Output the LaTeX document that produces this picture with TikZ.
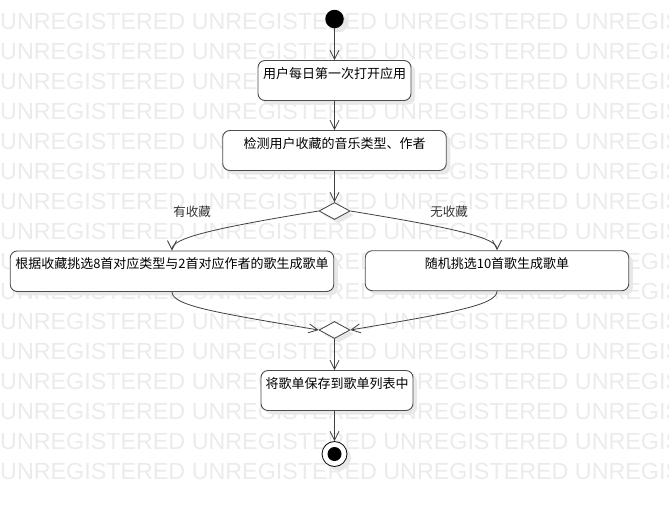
\documentclass[tikz,border=0pt]{standalone}
\usepackage{fontspec}
\setmainfont{Liberation Sans}
\newfontfamily\cjk{Noto Sans CJK SC}
\usetikzlibrary{arrows.meta,shapes.geometric,shadows}
\tikzset{
  wm/.style={anchor=base west, inner sep=0, text=black!8, font=\fontsize{23.3}{26}\selectfont},
  shd/.style={drop shadow={shadow xshift=4pt, shadow yshift=-4pt, fill=black!9, opacity=1}},
  actbox/.style={shd, draw=black!70, line width=0.9pt, fill=white, rounded corners=7pt,
     inner sep=0pt, text height=18pt, font=\cjk\fontsize{13}{15}\selectfont, text=black},
  decbox/.style={shd, diamond, draw=black!75, line width=0.8pt, fill=white, inner sep=0pt,
     minimum width=31pt, minimum height=17pt},
  lbl/.style={font=\cjk\fontsize{12.5}{14}\selectfont, text=black!80, inner sep=0pt},
  flow/.style={draw=black!75, line width=0.8pt, -{Straight Barb[length=9pt,width=9pt]}},
}
\begin{document}
\begin{tikzpicture}[x=1pt,y=-1pt]
\useasboundingbox (0,0) rectangle (669,507);
\begin{scope}
\clip (0,0) rectangle (669,507);
\foreach \k in {0,...,15} {
  \node[wm] (wm\k) at (0,{29+30*\k}) {UNREGISTERED UNREGISTERED UNREGISTERED UNREGISTERED};
}
\end{scope}
% initial
\node[shd, circle, fill=black, inner sep=0pt, minimum size=18.5pt] (init) at (334.5,19) {};
% actions
\node[actbox, minimum width=153pt, minimum height=40pt, text depth=22pt] (n1) at (334.5,80.5) {用户每日第一次打开应用};
\node[actbox, minimum width=223.5pt, minimum height=40pt, text depth=22pt] (n2) at (334.5,150.5) {检测用户收藏的音乐类型、作者};
\node[decbox] (d1) at (334.5,211) {};
\node[actbox, minimum width=323.5pt, minimum height=40.5pt, text depth=22.5pt] (n3) at (172,271.2) {根据收藏挑选8首对应类型与2首对应作者的歌生成歌单};
\node[actbox, minimum width=263.5pt, minimum height=40pt, text depth=22pt] (n4) at (497,270.7) {随机挑选10首歌生成歌单};
\node[decbox] (d2) at (334.5,330) {};
\node[actbox, minimum width=152pt, minimum height=40pt, text depth=22pt] (n5) at (337,390.5) {将歌单保存到歌单列表中};
% final
\node[shd, circle, draw=black, line width=0.8pt, fill=white, inner sep=0pt, minimum size=25pt] (fin) at (334.5,454) {};
\node[circle, fill=black, inner sep=0pt, minimum size=14pt] (finc) at (fin.center) {};
% labels
\node[lbl] (l1) at (192,212) {有收藏};
\node[lbl] (l2) at (449,212) {无收藏};
% flows
\draw[flow] (init) -- (n1);
\draw[flow] (n1) -- (n2);
\draw[flow] (n2) -- (d1);
\draw[flow] (d1.west) .. controls +(-110,18) and +(0,-12) .. (n3.north);
\draw[flow] (d1.east) .. controls +(110,18) and +(0,-12) .. (n4.north);
\draw[flow] (n3.south) .. controls +(0,14) and +(-100,-17) .. (d2.west);
\draw[flow] (n4.south) .. controls +(0,14) and +(100,-17) .. (d2.east);
\draw[flow] (d2.south) -- (n5.north -| d2.south);
\draw[flow] (n5.south -| fin) -- (fin);
\end{tikzpicture}
\end{document}
